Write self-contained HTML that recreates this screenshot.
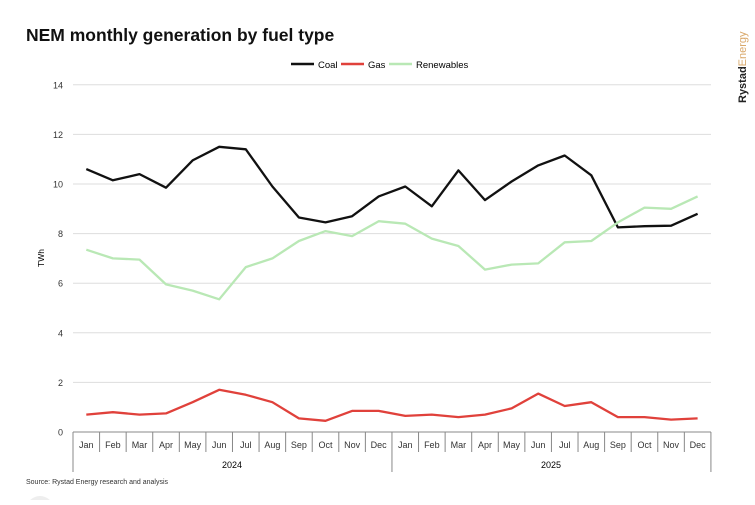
<!DOCTYPE html><html><head><meta charset="utf-8"><style>
body{margin:0;background:#fff;width:755px;height:500px;overflow:hidden;font-family:"Liberation Sans",sans-serif}
</style></head><body>
<svg id="s" width="755" height="500" xmlns="http://www.w3.org/2000/svg" font-family="Liberation Sans, sans-serif">
<text x="26" y="41" font-size="17.5" font-weight="bold" fill="#111">NEM monthly generation by fuel type</text>
<text transform="translate(746,103) rotate(-90)" font-size="11" font-weight="bold" fill="#222">Rystad<tspan font-weight="normal" fill="#d9a86a">Energy</tspan></text>
<line x1="291" y1="64" x2="314" y2="64" stroke="#111" stroke-width="2.5"/><text x="318" y="68" font-size="9.5">Coal</text>
<line x1="341" y1="64" x2="364" y2="64" stroke="#e0413b" stroke-width="2.5"/><text x="368" y="68" font-size="9.5">Gas</text>
<line x1="389" y1="64" x2="412" y2="64" stroke="#b9e8b5" stroke-width="2.5"/><text x="416" y="68" font-size="9.5">Renewables</text>
<g id="g"></g>
<text x="26" y="484" font-size="7" fill="#333">Source: Rystad Energy research and analysis</text>
<circle cx="40" cy="510" r="14" fill="#eee"/>
</svg>
<script>
var g=document.getElementById('g'),h='';
function Y(v){return 432-24.8*v}
for(var v=0;v<=14;v+=2){h+='<line x1="73" x2="711" y1="'+Y(v)+'" y2="'+Y(v)+'" stroke="'+(v?'#ddd':'#888')+'" stroke-width="1"/>';
h+='<text x="63" y="'+(Y(v)+3.5)+'" font-size="9" text-anchor="end" fill="#333">'+v+'</text>';}
h+='<text transform="translate(44,258) rotate(-90)" font-size="8.5" text-anchor="middle">TWh</text>';
var m=['Jan','Feb','Mar','Apr','May','Jun','Jul','Aug','Sep','Oct','Nov','Dec'],w=26.58;
for(var i=0;i<=24;i++){var x=73+w*i;var big=(i%12==0);h+='<line x1="'+x+'" x2="'+x+'" y1="432" y2="'+(big?472:452)+'" stroke="#888"/>';
if(i<24)h+='<text x="'+(x+w/2)+'" y="448" font-size="9" text-anchor="middle" fill="#333">'+m[i%12]+'</text>';}
h+='<text x="232" y="468" font-size="9" text-anchor="middle">2024</text><text x="551" y="468" font-size="9" text-anchor="middle">2025</text>';
var d={'#111':[10.6,10.15,10.4,9.85,10.95,11.5,11.4,9.9,8.65,8.45,8.7,9.5,9.9,9.1,10.55,9.35,10.1,10.75,11.15,10.35,8.25,8.3,8.32,8.8],
'#b9e8b5':[7.35,7.0,6.95,5.95,5.7,5.35,6.65,7.0,7.7,8.1,7.9,8.5,8.4,7.8,7.5,6.55,6.75,6.8,7.65,7.7,8.45,9.05,9.0,9.5],
'#e0413b':[0.7,0.8,0.7,0.75,1.2,1.7,1.5,1.2,0.55,0.45,0.85,0.85,0.65,0.7,0.6,0.7,0.95,1.55,1.05,1.2,0.6,0.6,0.5,0.55]};
for(var c in d){var p=d[c].map(function(v,i){return (86.3+w*i).toFixed(1)+','+Y(v).toFixed(1)}).join(' ');
h+='<polyline points="'+p+'" fill="none" stroke="'+c+'" stroke-width="2.3" stroke-linejoin="round"/>';}
g.innerHTML=h;
</script>
</body></html>
